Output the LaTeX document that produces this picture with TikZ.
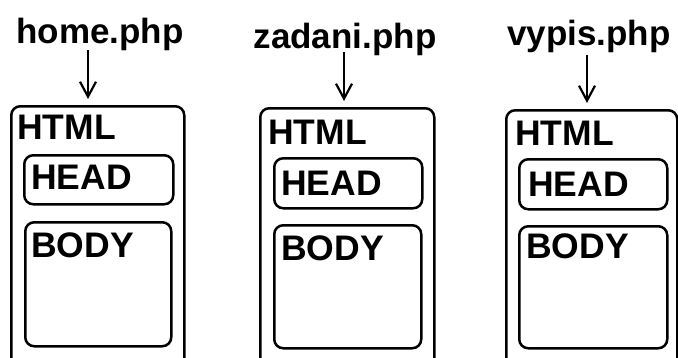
\documentclass[tikz,border=0pt]{standalone}
\usepackage{fontspec}
\setmainfont{Liberation Sans}
\usetikzlibrary{arrows.meta}
\begin{document}
\begin{tikzpicture}[x=1pt,y=-1pt,
  box/.style={draw=black, line width=2.5pt, rounded corners=9pt, inner sep=0pt, anchor=north west},
  lbl/.style={inner sep=0pt, anchor=base west, font=\fontsize{35.5}{40}\selectfont\bfseries},
  ttl/.style={inner sep=0pt, anchor=base, font=\fontsize{35}{40}\selectfont\bfseries},
  arr/.style={line width=2.2pt, shorten >=6pt, -{Straight Barb[length=15pt,width=16pt,line width=2.2pt]}}]
\useasboundingbox (0,0) rectangle (678,357);
\fill[white] (0,0) rectangle (678,357);
\clip (0,0) rectangle (678,357);

% group 1: home.php
\node[ttl] (t1) at (100,43) {home.php};
\node[box, minimum width=173pt, minimum height=275pt] (h1) at (10,105) {};
\node[box, minimum width=149pt, minimum height=49pt] (hd1) at (23,154) {};
\node[box, minimum width=146pt, minimum height=124pt] (b1) at (24,221) {};
\node[lbl] (l1) at (17,139) {HTML};
\node[lbl] (e1) at (31,189) {HEAD};
\node[lbl] (y1) at (31,257) {BODY};
\coordinate (s1) at (88,50);
\draw[arr] (s1) -- (s1 |- h1.north);

% group 2: zadani.php
\node[ttl] (t2) at (345,48) {zadani.php};
\node[box, minimum width=174pt, minimum height=275pt] (h2) at (259,107) {};
\node[box, minimum width=148pt, minimum height=50pt] (hd2) at (273,157) {};
\node[box, minimum width=147pt, minimum height=123pt] (b2) at (273,224) {};
\node[lbl] (l2) at (268,144) {HTML};
\node[lbl] (e2) at (281,195) {HEAD};
\node[lbl] (y2) at (281,260) {BODY};
\coordinate (s2) at (344,52);
\draw[arr] (s2) -- (s2 |- h2.north);

% group 3: vypis.php
\node[ttl] (t3) at (589,45) {vypis.php};
\node[box, minimum width=171pt, minimum height=275pt] (h3) at (505,109) {};
\node[box, minimum width=148pt, minimum height=50pt] (hd3) at (518,158) {};
\node[box, minimum width=148pt, minimum height=122pt] (b3) at (518,225) {};
\node[lbl] (l3) at (515,145) {HTML};
\node[lbl] (e3) at (528,196) {HEAD};
\node[lbl] (y3) at (526,258) {BODY};
\coordinate (s3) at (587,55);
\draw[arr] (s3) -- (s3 |- h3.north);
\end{tikzpicture}
\end{document}
